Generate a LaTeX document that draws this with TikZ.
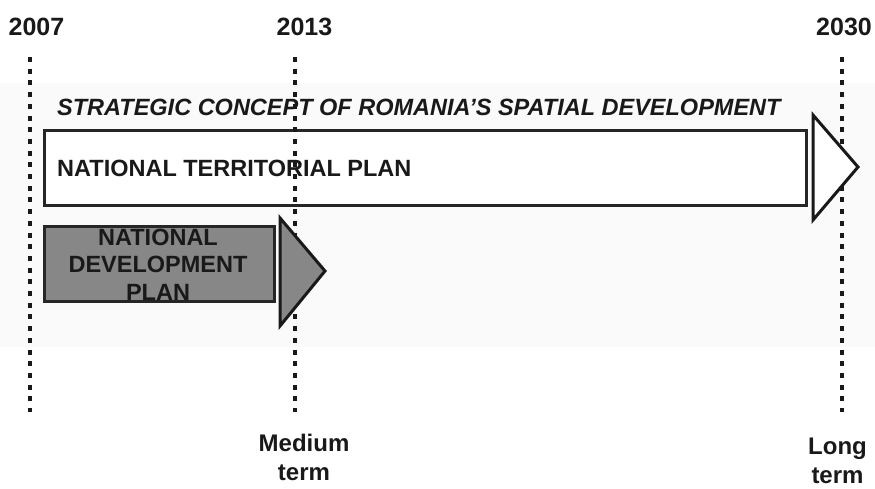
\documentclass[tikz,border=0pt]{standalone}
\usepackage{fontspec}
\setmainfont{Liberation Sans}
\begin{document}
\begin{tikzpicture}[x=1pt,y=-1pt,
  yearlbl/.style={font=\fontsize{25}{30}\selectfont\bfseries, text=black!90, inner sep=0pt},
  termlbl/.style={font=\fontsize{24}{29}\selectfont\bfseries, text=black!90, align=center, inner sep=0pt},
  plantext/.style={font=\fontsize{23.5}{27.5}\selectfont\bfseries, text=black!90, inner sep=0pt},
  planbox/.style={draw=black!85, line width=3pt, minimum width=762pt, minimum height=75pt, inner sep=0pt},
  dotline/.style={line width=4.5pt, black!90, dash pattern=on 5pt off 6.7pt},
  arrowhead/.style={draw=black!90, line width=3pt, line join=miter}
]
\useasboundingbox (0,0) rectangle (875,488);
\fill[white] (0,0) rectangle (875,488);
\fill[black!2] (0,83) rectangle (875,347);

% year labels
\node[yearlbl] (y2007) at (36.5,27) {2007};
\node[yearlbl] (y2013) at (304.5,27) {2013};
\node[yearlbl] (y2030) at (844,27) {2030};

% title
\node[plantext, font=\fontsize{23.5}{27.5}\selectfont\bfseries\itshape, anchor=west] (title) at (57,107) {STRATEGIC CONCEPT OF ROMANIA’S SPATIAL DEVELOPMENT};

% national territorial plan
\node[planbox, fill=white] (ntp) at (425,167.5) {};
\node[plantext, anchor=west] (ntptext) at (57,168) {NATIONAL TERRITORIAL PLAN};

% national development plan
\node[planbox, fill=black!47, minimum width=230pt] (ndp) at (159,263.5) {};
\node[plantext, align=center] (ndptext) at (158,264.5) {NATIONAL\\DEVELOPMENT\\PLAN};

% dotted time lines
\coordinate (t2007a) at (30,57);
\coordinate (t2007b) at (30,412);
\coordinate (t2013a) at (295,57);
\coordinate (t2013b) at (295,412);
\coordinate (t2030a) at (842,57);
\coordinate (t2030b) at (842,412);
\draw[dotline] (t2007a) -- (t2007b);
\draw[dotline] (t2013a) -- (t2013b);
\draw[dotline] (t2030a) -- (t2030b);

% arrow heads
\draw[arrowhead, fill=white] (813,115) -- (858,167) -- (813,220) -- cycle;
\draw[arrowhead, fill=black!47] (280,218) -- (325,271) -- (280,326) -- cycle;

% term labels
\node[termlbl] (medium) at (304,457) {Medium\\term};
\node[termlbl] (long) at (837.5,461) {Long\\term};
\end{tikzpicture}
\end{document}
